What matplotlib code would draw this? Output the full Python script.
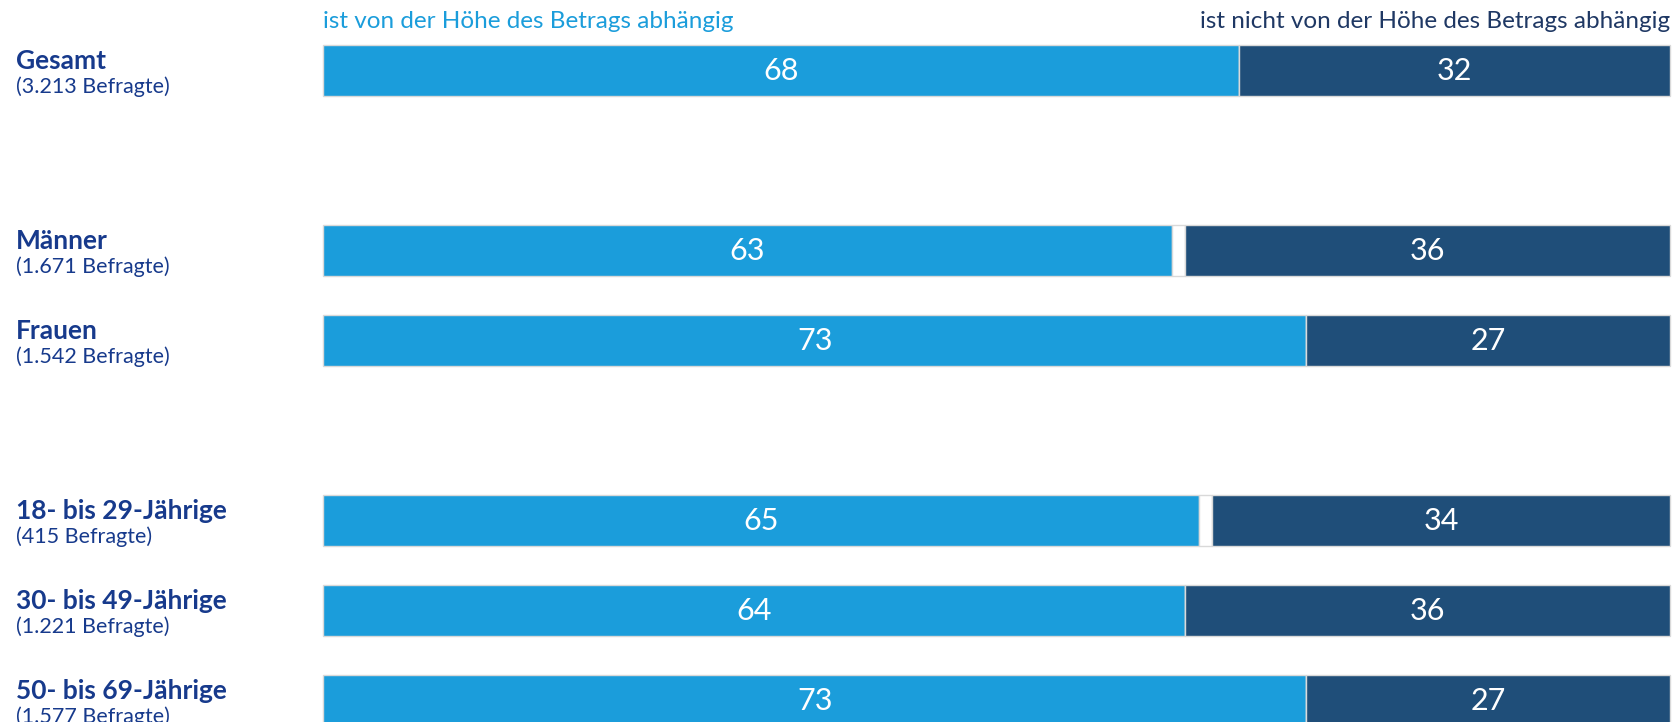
import numpy as np
import matplotlib
matplotlib.use('Agg')
import matplotlib.pyplot as plt

# --------------------------------------------------
# data
# --------------------------------------------------
groups = ['Gesamt', 'Männer', 'Frauen',
          '18- bis 29-Jährige', '30- bis 49-Jährige', '50- bis 69-Jährige']
counts = ['(3.213 Befragte)', '(1.671 Befragte)', '(1.542 Befragte)',
          '(415 Befragte)', '(1.221 Befragte)', '(1.577 Befragte)']
abhaengig = [68, 63, 73, 65, 64, 73]
nicht_abhaengig = [32, 36, 27, 34, 36, 27]
series_names = ['ist von der Höhe des Betrags abhängig',
                'ist nicht von der Höhe des Betrags abhängig']

# row slots (gaps between blocks)
slots = [0, 2, 3, 5, 6, 7]

LIGHT = '#1b9ddb'
DARK = '#1f4e79'
NAVY = '#173a8c'
EDGE = '#d9d9d9'

plt.rcParams['font.family'] = ['Lato', 'DejaVu Sans']

W, H = 1678, 722
fig = plt.figure(figsize=(W / 100, H / 100), dpi=100)
ax = fig.add_axes([0, 0, 1, 1])

# pixel layout
x0_px, x1_px = 323, 1670
px_per_unit = (x1_px - x0_px) / 100.0
slot_px = 90.0
y0_px = 70.6
ax.set_xlim(-x0_px / px_per_unit, 100 + (W - x1_px) / px_per_unit)
ax.set_ylim((H - y0_px) / slot_px, -y0_px / slot_px)
ax.axis('off')

a = np.array(abhaengig)
b = np.array(nicht_abhaengig)
gap = 100 - a - b
y = np.array(slots)
h = 0.57

ax.barh(y, a, height=h, color=LIGHT, edgecolor=EDGE, linewidth=1)
ax.barh(y, gap, left=a, height=h, color='white', edgecolor=EDGE, linewidth=1)
ax.barh(y, b, left=a + gap, height=h, color=DARK, edgecolor=EDGE, linewidth=1)

for yi, ai, gi, bi in zip(y, a, gap, b):
    ax.text(ai / 2, yi, str(ai), color='white', fontsize=22,
            ha='center', va='center')
    ax.text(ai + gi + bi / 2, yi, str(bi), color='white', fontsize=22,
            ha='center', va='center')

lab_x = (16 - x0_px) / px_per_unit
for yi, g, c in zip(y, groups, counts):
    ax.text(lab_x, yi - 10 / slot_px, g, color=NAVY, fontsize=19,
            fontweight='bold', ha='left', va='center')
    ax.text(lab_x, yi + 16 / slot_px, c, color=NAVY, fontsize=15.5,
            ha='left', va='center')

head_y = (21 - y0_px) / slot_px
ax.text(0, head_y, series_names[0], color=LIGHT, fontsize=17.5,
        ha='left', va='center')
ax.text(100, head_y, series_names[1], color='#1f3864', fontsize=17.5,
        ha='right', va='center')

fig.savefig('out.png', dpi=100)
